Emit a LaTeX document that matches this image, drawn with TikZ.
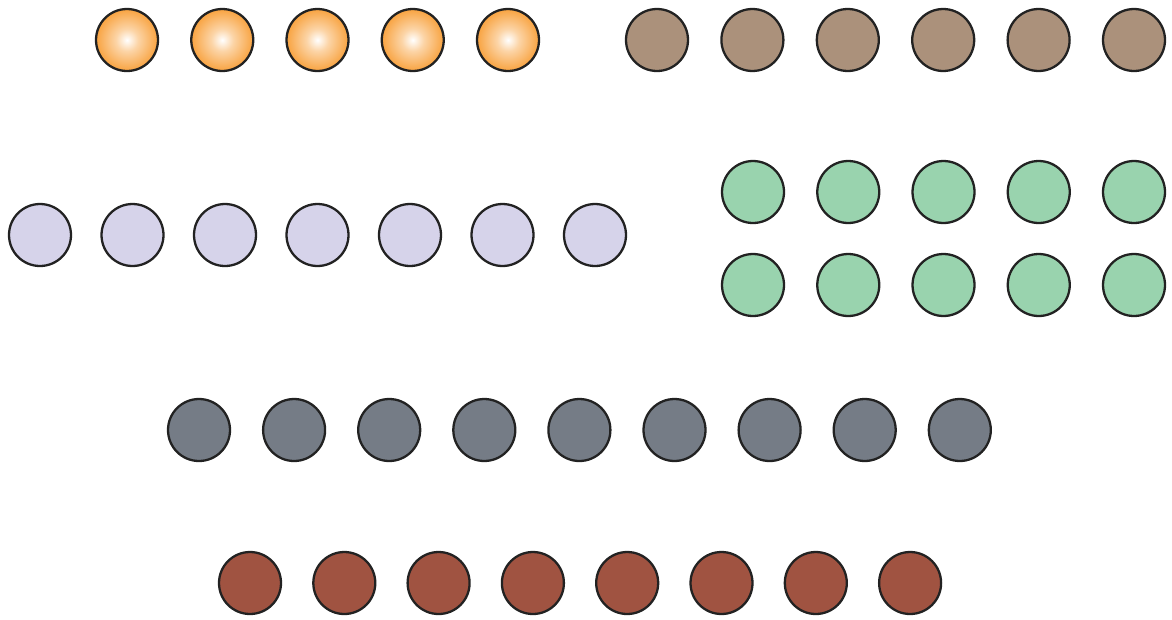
\documentclass[tikz,border=0pt]{standalone}
\usepackage{xcolor}
\usepackage{tikz}
\usetikzlibrary{positioning}

\definecolor{ballorange}{HTML}{F8A03A}
\definecolor{ballbrown}{HTML}{AB917B}
\definecolor{balllilac}{HTML}{D6D3EA}
\definecolor{ballgreen}{HTML}{99D3AE}
\definecolor{ballgray}{HTML}{757C86}
\definecolor{ballred}{HTML}{A05341}
\definecolor{ballline}{HTML}{222222}

\pgfdeclareradialshading{softglow}{\pgfpoint{0bp}{0bp}}{%
  color(0bp)=(white); color(9bp)=(ballorange!45!white);
  color(26bp)=(ballorange); color(50bp)=(ballorange)}

\begin{document}
\begin{tikzpicture}[
    x=0.02cm, y=-0.02cm,
    ball/.style={circle, draw=ballline, line width=1.3pt,
                 minimum size=1.24cm, inner sep=0pt},
    shinyball/.style={ball, shading=softglow},
    brownball/.style={ball, fill=ballbrown},
    lilacball/.style={ball, fill=balllilac},
    greenball/.style={ball, fill=ballgreen},
    grayball/.style={ball, fill=ballgray},
    redball/.style={ball, fill=ballred}
]
\useasboundingbox (0,0) rectangle (1172,619);
% top row
\foreach \i in {1,...,5}
  \node[shinyball] (o\i) at ({127+95.25*(\i-1)},40) {};
\foreach \i in {1,...,6}
  \node[brownball] (b\i) at ({657+95.4*(\i-1)},40) {};
% middle rows
\foreach \i in {1,...,7}
  \node[lilacball] (l\i) at ({40+92.5*(\i-1)},235) {};
\foreach \i in {1,...,5} {
  \node[greenball] (gu\i) at ({753+95.25*(\i-1)},192) {};
  \node[greenball] (gd\i) at ({753+95.25*(\i-1)},285) {};
}
% bottom rows
\foreach \i in {1,...,9}
  \node[grayball] (s\i) at ({199+95.1*(\i-1)},430) {};
\foreach \i in {1,...,8}
  \node[redball] (r\i) at ({250+94.3*(\i-1)},583) {};
\end{tikzpicture}
\end{document}
